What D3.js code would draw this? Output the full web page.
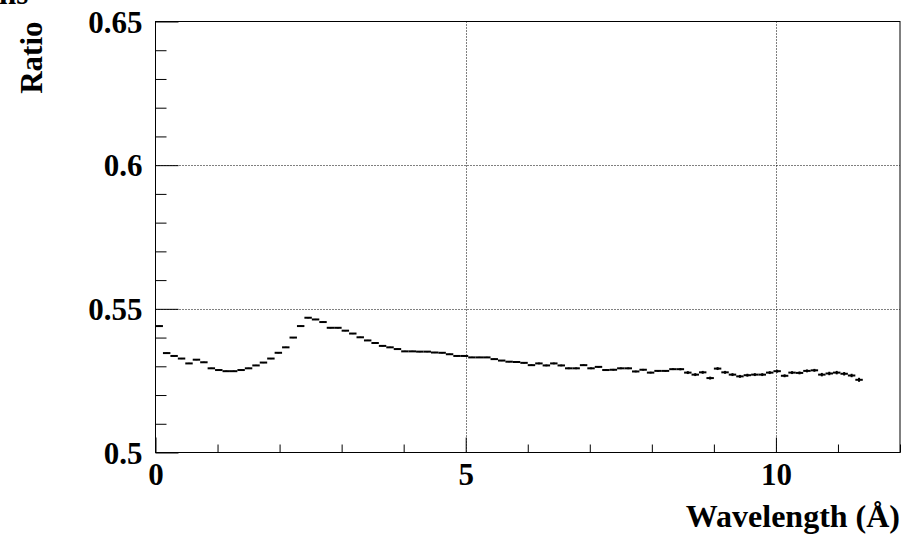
<!DOCTYPE html>
<html><head><meta charset="utf-8">
<script src="https://cdn.jsdelivr.net/npm/d3@7"></script>
<style>
html,body{margin:0;padding:0;background:#fff;}
svg{display:block;}
text{font-family:"Liberation Serif","DejaVu Serif",serif;font-weight:bold;fill:#000;}
</style></head>
<body>
<svg id="c" width="908" height="536"></svg>
<script>
// ---- data ----
const binWidth = 0.12;           // 100 bins from 0 to 12
const xDomain = [0, 12];
const yDomain = [0.5, 0.65];
const xMajorTicks = [0, 5, 10];
const xTickLabels = ["0", "5", "10"];
const yMajorTicks = [0.5, 0.55, 0.6, 0.65];
const yTickLabels = ["0.5", "0.55", "0.6", "0.65"];
const xTitle = "Wavelength (Å)";
const yTitle = "Ratio";
const ratio = [
 0.5440,0.5346,0.5336,0.5327,0.5310,0.5323,0.5314,0.5293,0.5287,0.5283,
 0.5283,0.5287,0.5293,0.5303,0.5313,0.5327,0.5347,0.5366,0.5400,0.5440,
 0.5469,0.5463,0.5454,0.5434,0.5434,0.5424,0.5414,0.5401,0.5390,0.5381,
 0.5371,0.5366,0.5360,0.5352,0.5352,0.5351,0.5351,0.5348,0.5347,0.5342,
 0.5336,0.5336,0.5331,0.5331,0.5331,0.5325,0.5320,0.5316,0.5315,0.5312,
 0.5304,0.5310,0.5303,0.5310,0.5303,0.5293,0.5293,0.5304,0.5293,0.5298,
 0.5287,0.5288,0.5293,0.5293,0.5282,0.5288,0.5278,0.5284,0.5284,0.5290,
 0.5290,0.5278,0.5271,0.5279,0.5259,0.5292,0.5279,0.5271,0.5265,0.5269,
 0.5271,0.5271,0.5278,0.5283,0.5267,0.5278,0.5277,0.5284,0.5286,0.5271,
 0.5275,0.5278,0.5274,0.5268,0.5253
];
const ratioErr = [
 0.0002,0.0002,0.0002,0.0002,0.0002,0.0002,0.0002,0.0002,0.0002,0.0002,
 0.0002,0.0002,0.0002,0.0002,0.0002,0.0002,0.0002,0.0002,0.0002,0.0002,
 0.0002,0.0002,0.0002,0.0002,0.0002,0.0002,0.0002,0.0002,0.0002,0.0002,
 0.0002,0.0002,0.0002,0.0002,0.0002,0.0002,0.0002,0.0002,0.0002,0.0002,
 0.0002,0.0002,0.0002,0.0002,0.0002,0.0002,0.0002,0.0002,0.0002,0.0002,
 0.0003,0.0003,0.0003,0.0003,0.0003,0.0003,0.0003,0.0003,0.0003,0.0003,
 0.0003,0.0003,0.0003,0.0003,0.0003,0.0003,0.0003,0.0003,0.0003,0.0003,
 0.0004,0.0005,0.0005,0.0005,0.0005,0.0005,0.0005,0.0005,0.0005,0.0005,
 0.0005,0.0005,0.0005,0.0005,0.0005,0.0005,0.0005,0.0005,0.0005,0.0006,
 0.0006,0.0006,0.0006,0.0006,0.0007
];

// ---- layout ----
const L = 155.5, R = 900, T = 21.5, B = 452.5;
const svg = d3.select("#c");
const x = d3.scaleLinear().domain(xDomain).range([L, R]);
const y = d3.scaleLinear().domain(yDomain).range([B, T]);
const fs = 31;

// grid (dotted) at inner major ticks
const g = svg.append("g");
g.selectAll("line.gx").data(xMajorTicks.filter(v => v > xDomain[0] && v < xDomain[1]))
 .enter().append("line")
 .attr("x1", d => Math.round(x(d)) + 0.5).attr("x2", d => Math.round(x(d)) + 0.5)
 .attr("y1", T).attr("y2", B)
 .attr("stroke", "#000").attr("stroke-width", 1).attr("stroke-dasharray", "1,2");
g.selectAll("line.gy").data(yMajorTicks.filter(v => v > yDomain[0] && v < yDomain[1]))
 .enter().append("line")
 .attr("y1", d => Math.round(y(d)) + 0.5).attr("y2", d => Math.round(y(d)) + 0.5)
 .attr("x1", L).attr("x2", R)
 .attr("stroke", "#000").attr("stroke-width", 1).attr("stroke-dasharray", "1,2");

// frame
svg.append("rect").attr("x", L).attr("y", T).attr("width", R - L).attr("height", B - T)
 .attr("fill", "none").attr("stroke", "#000").attr("stroke-width", 1);

// x axis ticks
const xMinor = d3.range(xDomain[0], xDomain[1] + 0.001, 1).filter(v => !xMajorTicks.includes(v));
const xa = svg.append("g").attr("transform", `translate(0,${B})`);
xa.call(d3.axisBottom(x).tickValues(xMinor).tickSize(-8).tickFormat(""));
xa.append("g").call(d3.axisBottom(x).tickValues(xMajorTicks).tickSize(-15)
  .tickFormat((d, i) => xTickLabels[i]).tickPadding(0));
xa.selectAll(".domain").remove();
xa.selectAll("line").attr("stroke", "#000");
xa.selectAll("text").attr("font-size", fs).attr("dy", null).attr("y", 32)
  .style("font-family", '"Liberation Serif",serif').style("font-weight", "bold").attr("fill", "#000");

// y axis ticks
const yMinor = d3.range(0, 16).map(i => +(yDomain[0] + i * 0.01).toFixed(2)).filter(v => !yMajorTicks.includes(v));
const ya = svg.append("g").attr("transform", `translate(${L},0)`);
ya.call(d3.axisLeft(y).tickValues(yMinor).tickSize(-11).tickFormat(""));
ya.append("g").call(d3.axisLeft(y).tickValues(yMajorTicks).tickSize(-23)
  .tickFormat((d, i) => yTickLabels[i]).tickPadding(13));
ya.selectAll(".domain").remove();
ya.selectAll("line").attr("stroke", "#000");
ya.selectAll("text").attr("font-size", fs).attr("dy", "0.34em")
  .style("font-family", '"Liberation Serif",serif').style("font-weight", "bold").attr("fill", "#000");

// data: horizontal bin bars + vertical error bars
const pts = ratio.map((v, i) => ({ x0: i * binWidth, x1: (i + 1) * binWidth, v, e: ratioErr[i] }));
const dg = svg.append("g");
dg.selectAll("line.h").data(pts).enter().append("line")
 .attr("x1", d => x(d.x0)).attr("x2", d => x(d.x1))
 .attr("y1", d => y(d.v)).attr("y2", d => y(d.v))
 .attr("stroke", "#000").attr("stroke-width", 2);
dg.selectAll("line.v").data(pts).enter().append("line")
 .attr("x1", d => x((d.x0 + d.x1) / 2)).attr("x2", d => x((d.x0 + d.x1) / 2))
 .attr("y1", d => y(d.v - d.e)).attr("y2", d => y(d.v + d.e))
 .attr("stroke", "#000").attr("stroke-width", 2);

// titles
svg.append("text").attr("x", R).attr("y", 527).attr("text-anchor", "end")
 .attr("font-size", 32).text(xTitle);
svg.append("text").attr("transform", `translate(42,${T}) rotate(-90)`).attr("text-anchor", "end")
 .attr("font-size", fs).text(yTitle);
// clipped title fragment at the top-left corner
svg.append("text").attr("x", -1).attr("y", 4).attr("font-size", fs).text("ns");
</script>
</body></html>
